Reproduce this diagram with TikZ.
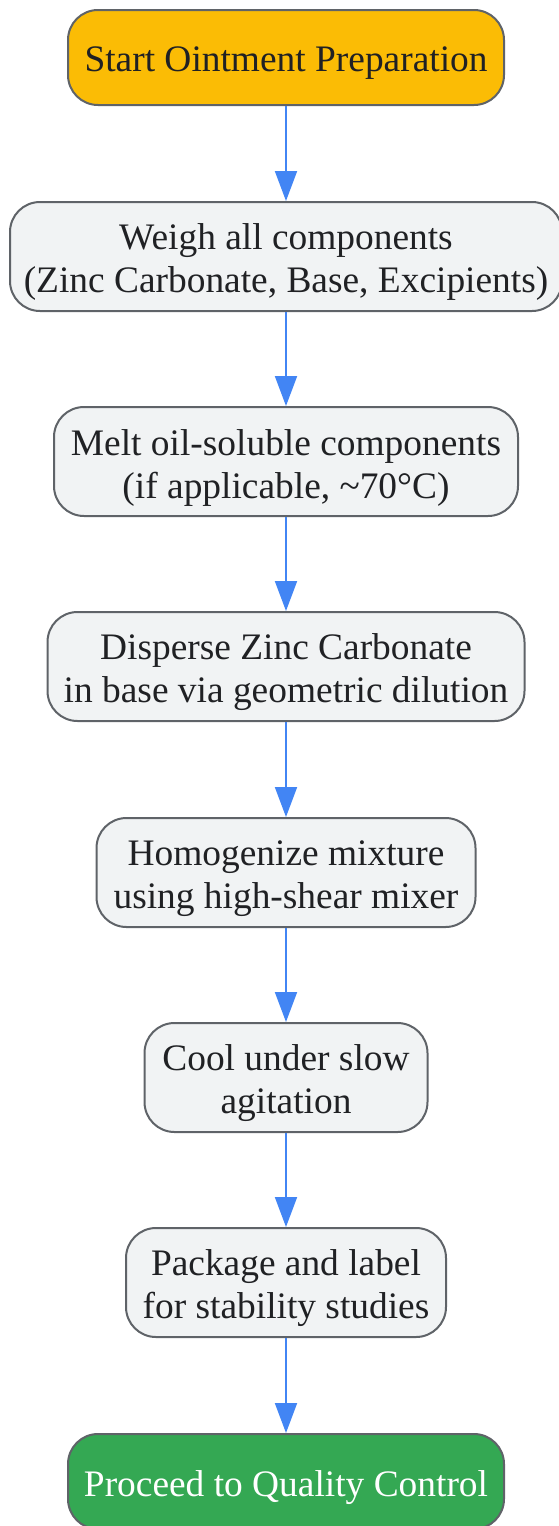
\documentclass[tikz,border=0pt]{standalone}
\usepackage{fontspec}
\setmainfont{Liberation Serif}
\usetikzlibrary{arrows.meta}
\definecolor{startc}{HTML}{FBBC05}
\definecolor{endc}{HTML}{34A853}
\definecolor{stepfill}{HTML}{F1F3F4}
\definecolor{edgec}{HTML}{5F6368}
\definecolor{arrowc}{HTML}{4285F4}
\definecolor{txtc}{HTML}{202124}
\tikzset{
  box/.style={draw=edgec, line width=2bp, rounded corners=30bp, inner sep=0pt},
  stepbox/.style={box, fill=stepfill, minimum height=109bp},
  startbox/.style={box, fill=startc, minimum height=95bp},
  endbox/.style={box, fill=endc, minimum height=95bp},
  txt/.style={align=center, inner sep=0pt, font=\fontsize{37.4bp}{43bp}\selectfont, text=txtc, yshift=-6bp},
  conn/.style={draw=arrowc, line width=2bp, -{Triangle[width=22bp,length=30bp]}}
}
\begin{document}
\begin{tikzpicture}
\useasboundingbox (0,0) rectangle (559bp,-1526bp);
\node[startbox, minimum width=436bp] (n1) at (286bp,-57.5bp) {};
\node[stepbox, minimum width=552bp] (n2) at (286bp,-256.5bp) {};
\node[stepbox, minimum width=464bp] (n3) at (286bp,-461.5bp) {};
\node[stepbox, minimum width=477bp] (n4) at (286bp,-666.5bp) {};
\node[stepbox, minimum width=379bp] (n5) at (286bp,-872.5bp) {};
\node[stepbox, minimum width=283bp] (n6) at (286bp,-1077.5bp) {};
\node[stepbox, minimum width=320bp] (n7) at (286bp,-1282.5bp) {};
\node[endbox, minimum width=436bp] (n8) at (286bp,-1481.5bp) {};
\node[txt] (t1) at (n1.center) {Start Ointment Preparation};
\node[txt] (t2) at (n2.center) {Weigh all components\\(Zinc Carbonate, Base, Excipients)};
\node[txt] (t3) at (n3.center) {Melt oil-soluble components\\(if applicable, \textasciitilde70°C)};
\node[txt] (t4) at (n4.center) {Disperse Zinc Carbonate\\in base via geometric dilution};
\node[txt] (t5) at (n5.center) {Homogenize mixture\\using high-shear mixer};
\node[txt] (t6) at (n6.center) {Cool under slow\\agitation};
\node[txt] (t7) at (n7.center) {Package and label\\for stability studies};
\node[txt, text=white] (t8) at (n8.center) {Proceed to Quality Control};
\foreach \a/\b in {n1/n2,n2/n3,n3/n4,n4/n5,n5/n6,n6/n7,n7/n8}
  \draw[conn] (\a.south) -- (\b.north);
\end{tikzpicture}
\end{document}
